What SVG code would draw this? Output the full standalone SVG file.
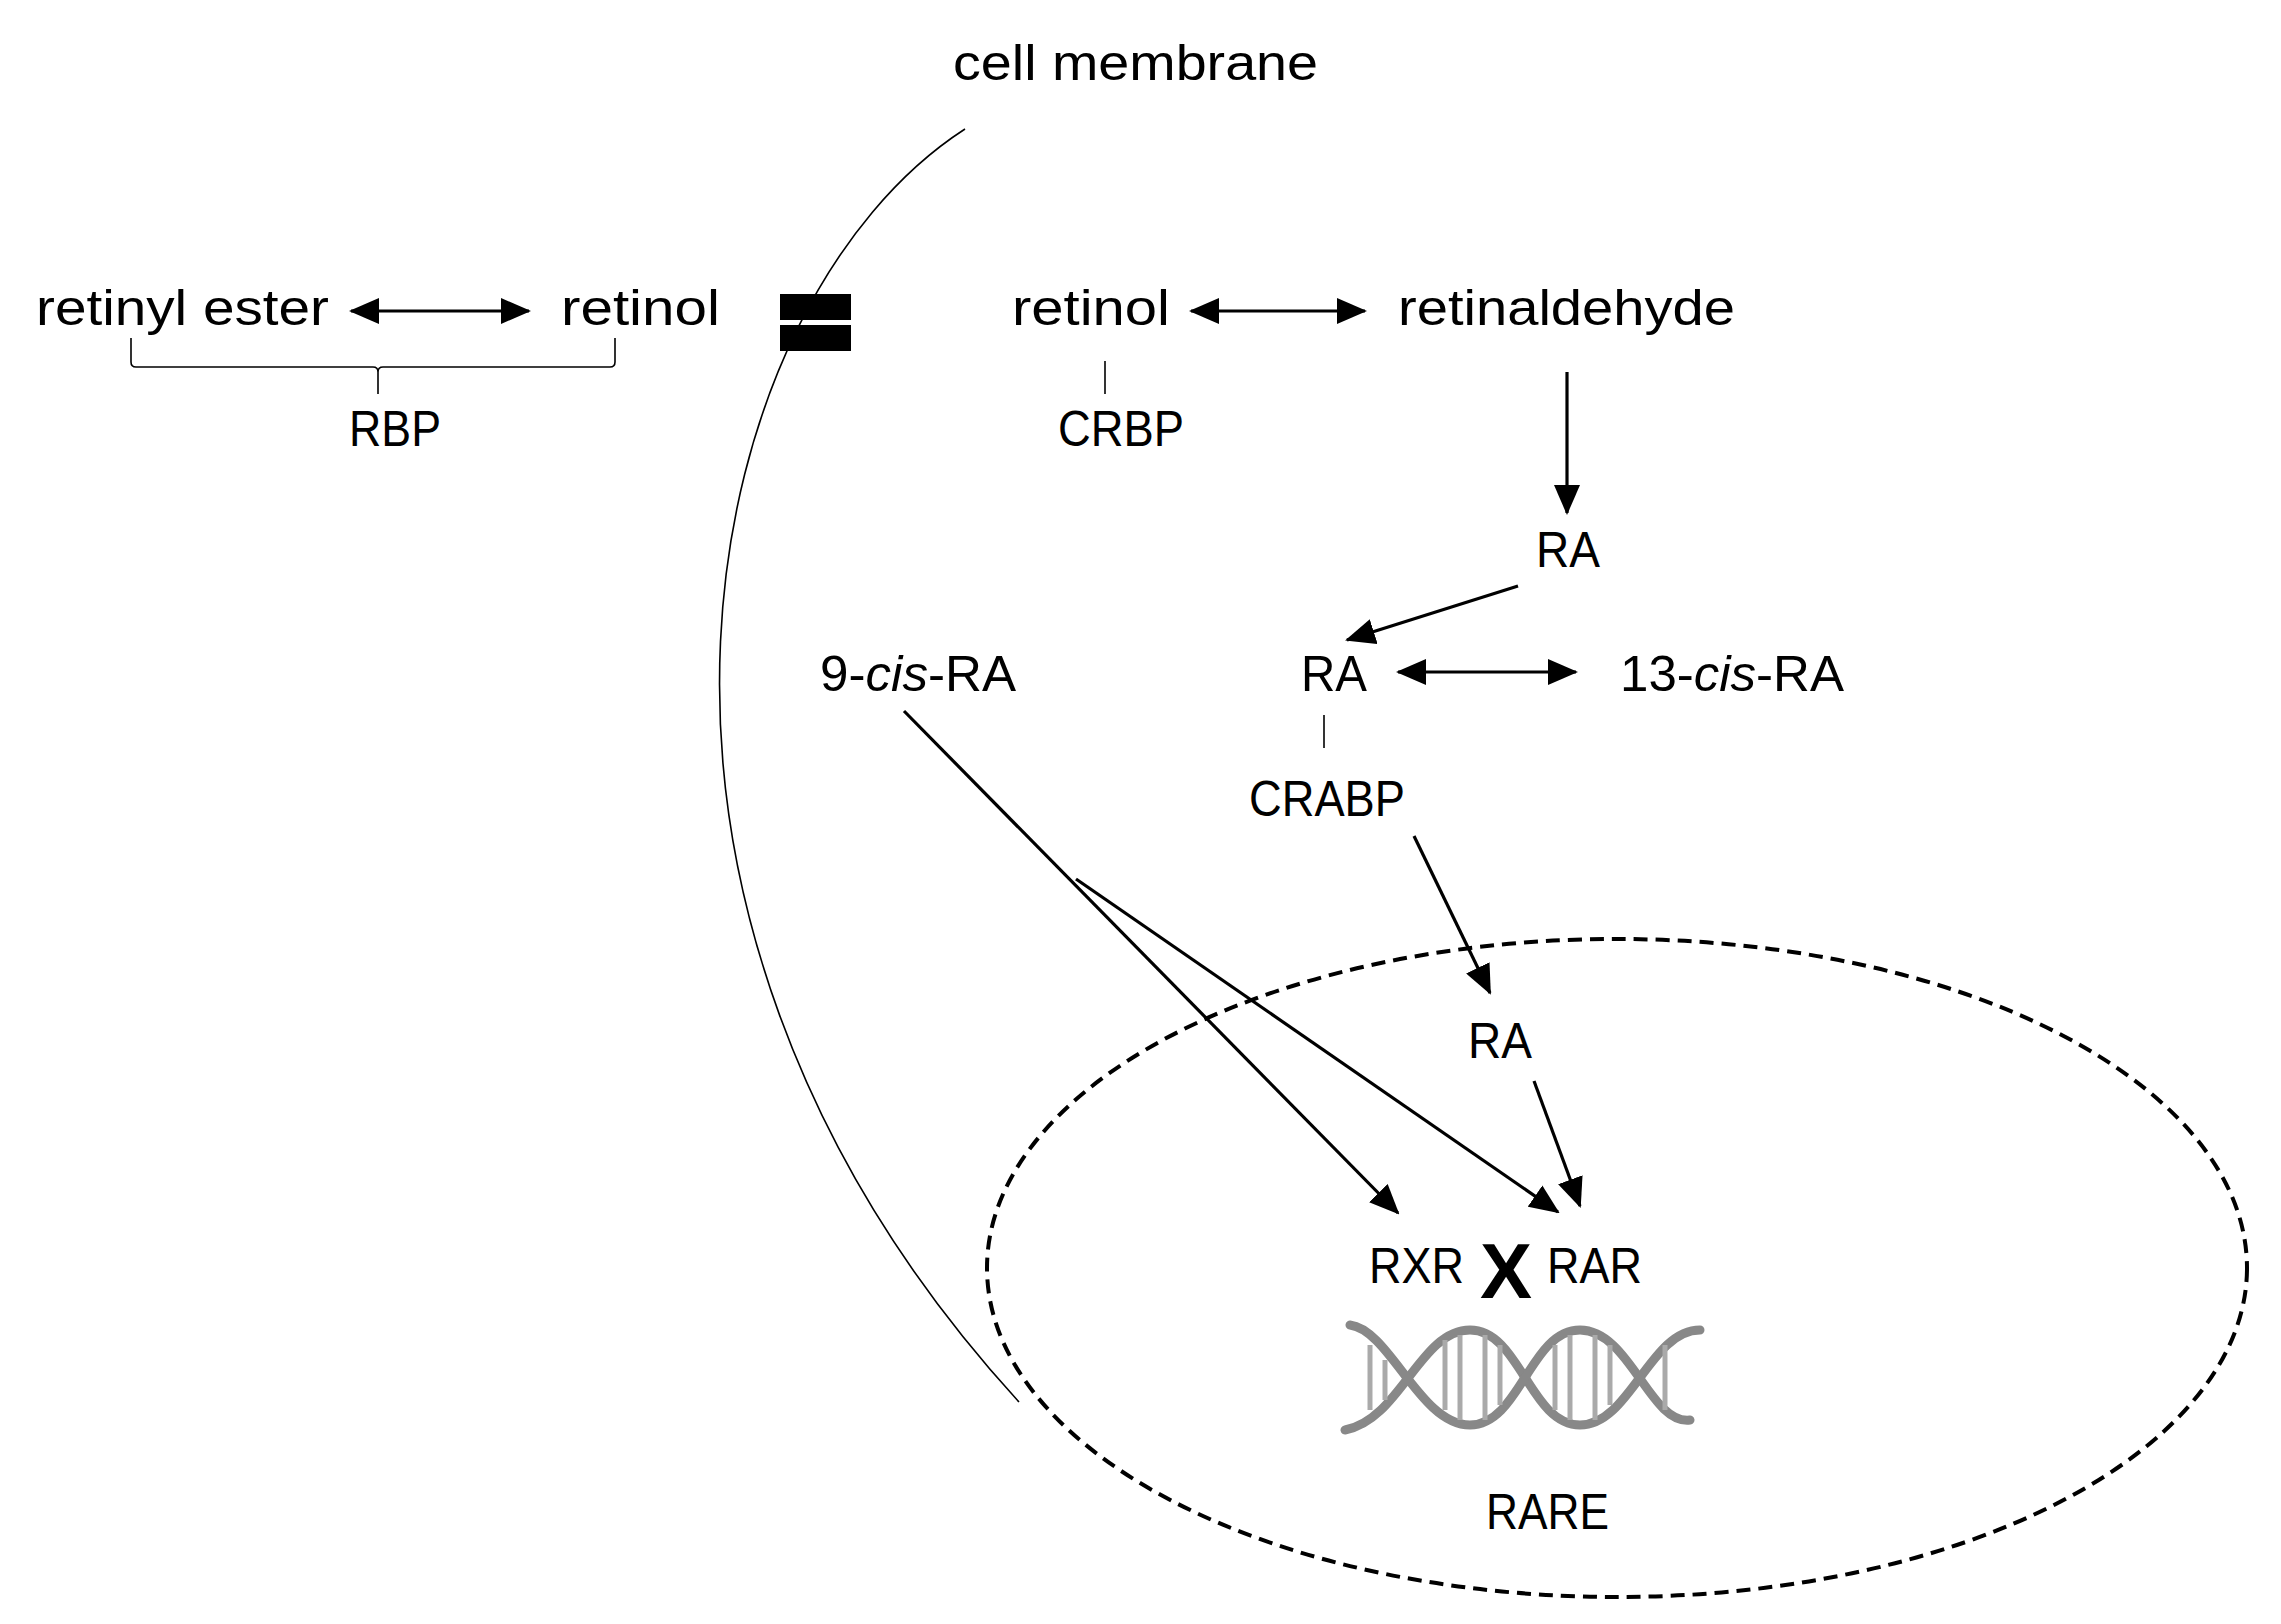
<svg xmlns="http://www.w3.org/2000/svg" width="2281" height="1624" viewBox="0 0 2281 1624">
<style>
text{font-family:"Liberation Sans",Arial,sans-serif;font-size:50px;fill:#000}
.ln{stroke:#000;stroke-width:3.2;fill:none}
.th{stroke:#000;stroke-width:1.6;fill:none}
.dna{stroke:#888;stroke-width:9;fill:none;stroke-linecap:round}
.rung{stroke:#aaa;stroke-width:5}
</style>
<defs>
<marker id="ah" markerUnits="userSpaceOnUse" markerWidth="30" markerHeight="26" refX="28" refY="13" orient="auto"><path d="M0,0 L30,13 L0,26 Z" fill="#000"/></marker>
<marker id="as" markerUnits="userSpaceOnUse" markerWidth="30" markerHeight="26" refX="2" refY="13" orient="auto"><path d="M30,0 L0,13 L30,26 Z" fill="#000"/></marker>
</defs>
<g id="membrane">
<path class="th" d="M965,129 C700,300 560,900 1019,1402"/>
<rect x="780" y="294" width="71" height="26" fill="#000"/>
<rect x="780" y="325" width="71" height="26" fill="#000"/>
<text x="953" y="80" textLength="365" lengthAdjust="spacingAndGlyphs">cell membrane</text>
</g>
<g id="nucleus"><ellipse cx="1617" cy="1268" rx="630" ry="329" fill="none" stroke="#000" stroke-width="4" stroke-dasharray="14,8"/></g>
<g id="retinyl-ester"><text x="36" y="325" textLength="293" lengthAdjust="spacingAndGlyphs">retinyl ester</text></g>
<g id="retinol-out"><text x="561" y="325" textLength="159" lengthAdjust="spacingAndGlyphs">retinol</text></g>
<g id="rbp">
<path class="th" d="M131,338 V362 Q131,367 136,367 H373 Q378,367 378,372 V394 M378,372 Q378,367 383,367 H610 Q615,367 615,362 V338"/>
<text x="349" y="446" textLength="92" lengthAdjust="spacingAndGlyphs">RBP</text>
</g>
<g id="retinol-in"><text x="1012" y="325" textLength="158" lengthAdjust="spacingAndGlyphs">retinol</text></g>
<g id="crbp"><line class="th" x1="1105" y1="361" x2="1105" y2="394"/><text x="1058" y="446" textLength="126" lengthAdjust="spacingAndGlyphs">CRBP</text></g>
<g id="retinaldehyde"><text x="1398" y="325" textLength="337" lengthAdjust="spacingAndGlyphs">retinaldehyde</text></g>
<g id="ra1"><text x="1536" y="567" textLength="64" lengthAdjust="spacingAndGlyphs">RA</text></g>
<g id="ra2"><text x="1301" y="691" textLength="66" lengthAdjust="spacingAndGlyphs">RA</text></g>
<g id="cis13"><text x="1620" y="691" textLength="224" lengthAdjust="spacingAndGlyphs">13-<tspan font-style="italic">cis</tspan>-RA</text></g>
<g id="crabp"><line class="th" x1="1324" y1="715" x2="1324" y2="748"/><text x="1249" y="816" textLength="156" lengthAdjust="spacingAndGlyphs">CRABP</text></g>
<g id="cis9"><text x="820" y="691" textLength="196" lengthAdjust="spacingAndGlyphs">9-<tspan font-style="italic">cis</tspan>-RA</text></g>
<g id="ra3"><text x="1468" y="1058" textLength="64" lengthAdjust="spacingAndGlyphs">RA</text></g>
<g id="receptors">
<text x="1369" y="1283" textLength="95" lengthAdjust="spacingAndGlyphs">RXR</text>
<text x="1506" y="1298" text-anchor="middle" style="font-size:78px;font-weight:bold">X</text>
<text x="1547" y="1283" textLength="95" lengthAdjust="spacingAndGlyphs">RAR</text>
</g>
<g id="dna">
<path class="dna" d="M1345,1430 C1400,1420 1420,1330 1470,1330 C1520,1330 1530,1425 1580,1425 C1630,1425 1650,1330 1700,1330"/>
<path class="dna" d="M1350,1325 C1390,1330 1420,1425 1470,1425 C1520,1425 1530,1330 1580,1330 C1630,1330 1650,1425 1690,1420"/>
<g class="rung">
<line x1="1370" y1="1345" x2="1370" y2="1410"/><line x1="1385" y1="1360" x2="1385" y2="1400"/>
<line x1="1445" y1="1340" x2="1445" y2="1410"/><line x1="1460" y1="1335" x2="1460" y2="1420"/><line x1="1485" y1="1335" x2="1485" y2="1420"/><line x1="1500" y1="1345" x2="1500" y2="1405"/>
<line x1="1555" y1="1345" x2="1555" y2="1410"/><line x1="1570" y1="1335" x2="1570" y2="1420"/><line x1="1595" y1="1335" x2="1595" y2="1420"/><line x1="1610" y1="1345" x2="1610" y2="1405"/>
<line x1="1665" y1="1345" x2="1665" y2="1410"/>
</g>
</g>
<g id="rare"><text x="1486" y="1529" textLength="123" lengthAdjust="spacingAndGlyphs">RARE</text></g>
<g id="connectors">
<line class="ln" x1="351" y1="311" x2="529" y2="311" marker-start="url(#as)" marker-end="url(#ah)"/>
<line class="ln" x1="1191" y1="311" x2="1365" y2="311" marker-start="url(#as)" marker-end="url(#ah)"/>
<line class="ln" x1="1567" y1="372" x2="1567" y2="513" marker-end="url(#ah)"/>
<line class="ln" x1="1518" y1="586" x2="1347" y2="640" marker-end="url(#ah)"/>
<line class="ln" x1="1398" y1="672" x2="1576" y2="672" marker-start="url(#as)" marker-end="url(#ah)"/>
<line class="ln" x1="1414" y1="836" x2="1490" y2="993" marker-end="url(#ah)"/>
<line class="ln" x1="904" y1="711" x2="1398" y2="1213" marker-end="url(#ah)"/>
<line class="ln" x1="1076" y1="879" x2="1558" y2="1212" marker-end="url(#ah)"/>
<line class="ln" x1="1534" y1="1081" x2="1580" y2="1206" marker-end="url(#ah)"/>
</g>
</svg>
